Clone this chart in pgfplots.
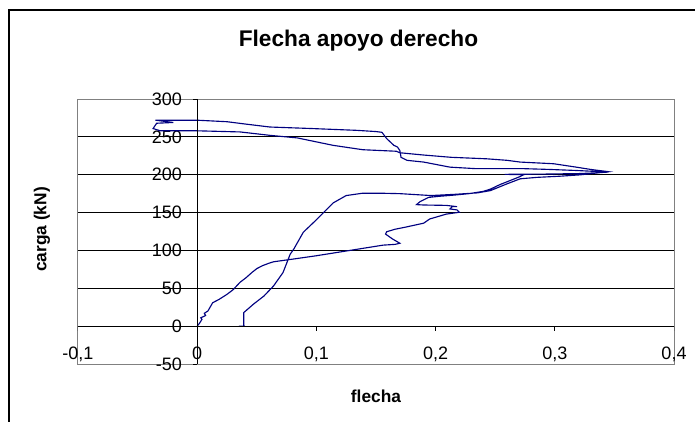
\documentclass[border=0pt]{standalone}
\usepackage{pgfplots}
\pgfplotsset{compat=1.18}
\usepackage{fontspec}
\setmainfont{Liberation Sans}
\definecolor{serie}{RGB}{0,0,128}
\definecolor{marco}{RGB}{128,128,128}

\begin{document}
\begin{tikzpicture}
\useasboundingbox (0pt,0pt) rectangle (521.25pt,-315.75pt);
% chart area border (runs off the right and bottom of the image)
\draw[line width=1pt] (6.75pt,-330pt) -- (6.75pt,-7.5pt) -- (540pt,-7.5pt);
\begin{axis}[
  at={(58.5pt,-273pt)}, anchor=south west,
  scale only axis, width=447pt, height=198.75pt,
  xmin=-0.1, xmax=0.4, ymin=-50, ymax=300,
  xtick={-0.1,0,0.1,0.2,0.3,0.4},
  xticklabels={{-0,1},0,{0,1},{0,2},{0,3},{0,4}},
  ytick={-50,0,50,100,150,200,250,300},
  yticklabels={-50,0,50,100,150,200,250,300},
  major tick length=0pt,
  ymajorgrids, grid style={black,line width=0.6pt},
  axis line style={marco,line width=0.75pt},
  tick label style={font=\fontsize{13.5}{15}\selectfont},
  xticklabel style={yshift=16pt},
  yticklabel style={xshift=81.5pt},
  title={Flecha apoyo derecho},
  title style={font=\bfseries\fontsize{17}{20}\selectfont,
    at={(axis description cs:0.4706,1.19)}, anchor=center},
  xlabel={flecha},
  xlabel style={font=\bfseries\fontsize{13}{15}\selectfont,
    at={(axis description cs:0.5,-0.121)}, anchor=center},
  ylabel={carga (kN)},
  ylabel style={font=\bfseries\fontsize{13}{15}\selectfont,
    at={(axis description cs:-0.0604,0.5075)}, anchor=center},
]
\addplot[serie, line width=0.85pt] coordinates {
(0,0) (0.002,4) (0.004,9) (0.003,11) (0.007,14) (0.006,17) (0.009,20)
(0.013,31) (0.018,35) (0.025,42) (0.030,48) (0.036,58) (0.041,64)
(0.046,71) (0.050,76) (0.055,80) (0.060,83) (0.064,85) (0.080,88.5)
(0.100,93) (0.120,98) (0.140,103) (0.156,107) (0.166,108) (0.170,109.5)
(0.164,115) (0.158,121.6) (0.159,124.7) (0.166,128) (0.174,130.5)
(0.190,136) (0.195,141.5) (0.209,148) (0.220,150.4) (0.218,153.5)
(0.212,154.8) (0.214,157.8) (0.218,157.8) (0.209,159.5) (0.190,160)
(0.184,160.5) (0.187,164.5) (0.194,170)
(0.203,171.5) (0.215,173) (0.228,175) (0.240,178) (0.246,181)
(0.254,187) (0.262,192) (0.270,197) (0.274,200)
(0.258,200.5) (0.290,200.8) (0.320,201.5) (0.335,202.5) (0.345,203.5)
(0.318,205.6) (0.295,207) (0.274,208) (0.234,208) (0.212,210)
(0.190,216.7) (0.176,219) (0.171,223) (0.170,232) (0.168,236.6)
(0.165,238.8) (0.159,247.6) (0.155,256) (0.150,257) (0.134,258.6)
(0.096,261) (0.061,263) (0.040,267) (0.025,270) (0,272) (-0.035,272)
(-0.020,269) (-0.034,268) (-0.037,261) (-0.031,258) (0,258)
(0.036,256.5) (0.061,252) (0.084,248.6) (0.114,238.8) (0.139,233)
(0.167,231) (0.170,229) (0.190,226) (0.213,223) (0.243,221)
(0.260,219) (0.271,216.7) (0.299,214.5) (0.318,210) (0.330,207)
(0.345,204)
(0.321,199.8) (0.304,198) (0.285,196.5) (0.271,194.6) (0.260,188)
(0.246,179) (0.235,176) (0.215,174) (0.196,172.5) (0.170,175)
(0.153,175.6) (0.139,175.6) (0.125,172.5) (0.114,162.7) (0.099,139)
(0.089,124) (0.081,101.7) (0.078,95) (0.072,70.8) (0.064,53)
(0.056,39.8) (0.047,28.8) (0.039,17.8) (0.039,2.2) (0.039,0)
(0.035,0) (0.040,0)
};
% axes crossing at the origin, with their tick marks
\draw[black,line width=0.75pt] (axis cs:0,-50) -- (axis cs:0,300);
\draw[black,line width=0.75pt] (axis cs:-0.1,0) -- (axis cs:0.4,0);
\pgfplotsinvokeforeach{-50,0,50,100,150,200,250,300}{
  \draw[black,line width=0.75pt] (axis cs:0,#1) -- ++(-3.5pt,0pt);}
\pgfplotsinvokeforeach{-0.1,0,0.1,0.2,0.3,0.4}{
  \draw[black,line width=0.75pt] (axis cs:#1,0) -- ++(0pt,-3.75pt);}
\end{axis}
\end{tikzpicture}
\end{document}
